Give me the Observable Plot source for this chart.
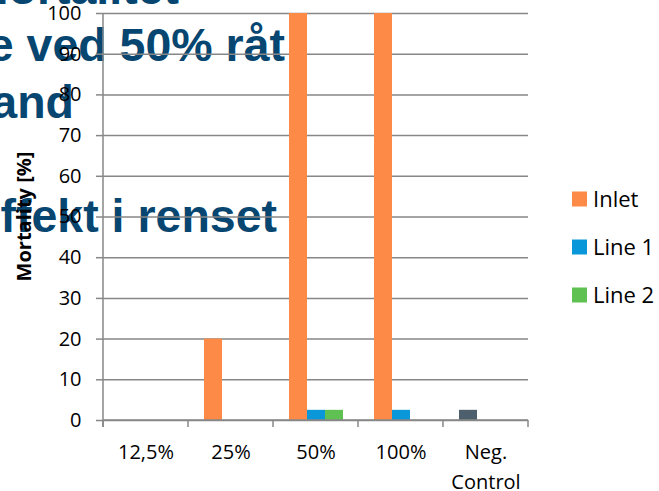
<!DOCTYPE html>
<html>
<head>
<meta charset="utf-8">
<script src="https://cdn.jsdelivr.net/npm/d3@7"></script>
<script src="https://cdn.jsdelivr.net/npm/@observablehq/plot@0.6"></script>
<style>
  body { margin: 0; background: #fff; }
  #chart { position: relative; width: 659px; height: 491px; overflow: hidden; }
  #chart svg { position: absolute; left: 0; top: 0; }
</style>
</head>
<body>
<div id="chart"></div>
<script>
// Test concentrations (x categories) and mortality per water sample series
const categories = ["12,5%", "25%", "50%", "100%", "Neg. Control"];
const categoryLabels = ["12,5%", "25%", "50%", "100%", "Neg.\nControl"];
const series = ["Inlet", "Line 1", "Line 2"];
const inletValues = [0, 20, 100, 100, 2.5];
const line1Values = [0, 0, 2.5, 2.5, 0];
const line2Values = [0, 0, 2.5, 0, 0];
const seriesColors = ["#fe8a47", "#0a97da", "#5fc152"];
const negControlColor = "#4d5f6d";
const yTicks = [0, 10, 20, 30, 40, 50, 60, 70, 80, 90, 100];
const yLabel = "Mortality [%]";

// Slide headline lines sitting behind the chart
const headlineLines = ["Mortalitet", "e ved 50% råt", "and", "ffekt i renset"];

const gridColor = "#878787";
const valuesBySeries = [inletValues, line1Values, line2Values];

// Long table: one row per category and series
const rows = [];
categories.forEach((c, i) => {
  series.forEach((s, j) => {
    const isNeg = c === "Neg. Control" && s === "Inlet";
    rows.push({
      category: c,
      series: s,
      value: valuesBySeries[j][i],
      color: isNeg ? negControlColor : seriesColors[j]
    });
  });
});

const root = d3.select("#chart");

// Headline layer (drawn first, the chart is transparent over it)
const back = root.append("svg").attr("width", 659).attr("height", 491);
const headlineLayout = [
  { x: 179, y: 4 },
  { x: 285, y: 61 },
  { x: 74, y: 118 },
  { x: 277, y: 232 }
];
back.selectAll("text")
  .data(headlineLines)
  .join("text")
  .attr("x", (d, i) => headlineLayout[i].x)
  .attr("y", (d, i) => headlineLayout[i].y)
  .attr("text-anchor", "end")
  .attr("font-family", "'Liberation Sans', Arial, sans-serif")
  .attr("font-weight", "bold")
  .attr("font-size", 46.5)
  .attr("fill", "#074670")
  .text(d => d);

const plot = Plot.plot({
  width: 659,
  height: 491,
  marginLeft: 102,
  marginRight: 130,
  marginTop: 13,
  marginBottom: 71,
  style: { background: "transparent", fontFamily: "'Open Sans', sans-serif", fontSize: "20px", color: "#000" },
  fx: { domain: categories, padding: 0, label: null, axis: null },
  x: { domain: series, paddingInner: 0, paddingOuter: 0.8, axis: null },
  y: { domain: [0, 100], label: null, axis: null },
  color: { type: "identity" },
  marks: [
    Plot.gridY(yTicks, { stroke: gridColor, strokeOpacity: 1, strokeWidth: 1.5 }),
    Plot.axisY(yTicks, { tickSize: 7, tickPadding: 15, stroke: gridColor, strokeWidth: 1.5,
      fill: "#000", fontSize: 20, label: null }),
    Plot.barY(rows, { fx: "category", x: "series", y: "value", fill: "color" }),
    // category labels under each facet
    Plot.text(categories, { fx: d => d, text: (d, i) => categoryLabels[i], frameAnchor: "bottom",
      dy: 17, lineAnchor: "top", lineHeight: 1.5, fontSize: 20, fill: "#000" })
  ]
});
root.node().appendChild(plot);

// Axis lines, category boundary ticks, y label and legend
const svg = d3.select(plot);
svg.selectAll('g[aria-label="y-axis tick label"]').attr("font-size", 20)
  .selectAll("text").attr("font-size", 20);
const fx = plot.scale("fx");
const y = plot.scale("y");
const left = fx.apply(categories[0]);
const right = fx.apply(categories[categories.length - 1]) + fx.bandwidth;
const y0 = y.apply(0);
const yTop = y.apply(100);
const g = svg.append("g").attr("stroke", gridColor).attr("stroke-width", 1.5);
g.append("line").attr("x1", left).attr("x2", left).attr("y1", yTop).attr("y2", y0 + 7);
g.append("line").attr("x1", left).attr("x2", right).attr("y1", y0).attr("y2", y0);
const bounds = categories.map(c => fx.apply(c)).concat([right]);
g.selectAll(".b").data(bounds).join("line")
  .attr("x1", d => d).attr("x2", d => d).attr("y1", y0).attr("y2", y0 + 7);

svg.append("text")
  .attr("transform", `translate(24,${(yTop + y0) / 2}) rotate(-90)`)
  .attr("text-anchor", "middle")
  .attr("dy", "0.35em")
  .attr("font-weight", "bold")
  .attr("font-size", 20)
  .attr("fill", "#000")
  .text(yLabel);

const legend = svg.append("g").attr("transform", "translate(572,199)");
const item = legend.selectAll("g").data(series).join("g")
  .attr("transform", (d, i) => `translate(0,${i * 48})`);
item.append("rect").attr("x", 0).attr("y", -7.5).attr("width", 15).attr("height", 15)
  .attr("fill", (d, i) => seriesColors[i]);
item.append("text").attr("x", 21).attr("dy", "0.36em").attr("text-anchor", "start")
  .attr("font-size", 22).attr("fill", "#000").text(d => d);
</script>
</body>
</html>
